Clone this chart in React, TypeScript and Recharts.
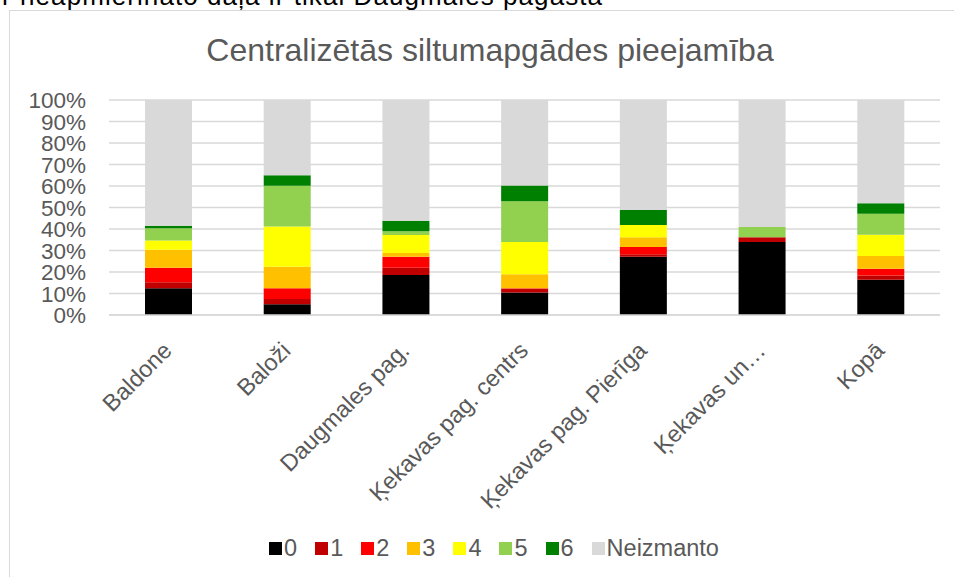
import React from "react";
import { BarChart, Bar, XAxis, YAxis, CartesianGrid } from "recharts";

const categories = [
  "Baldone",
  "Baloži",
  "Daugmales pag.",
  "Ķekavas pag. centrs",
  "Ķekavas pag. Pierīga",
  "Ķekavas un…",
  "Kopā",
];

const s0 = [12.4, 5.0, 18.6, 10.5, 27.1, 34.0, 16.4];
const s1 = [2.8, 2.4, 3.4, 1.7, 1.1, 2.2, 2.0];
const s2 = [6.8, 5.0, 5.1, 0.3, 3.4, 0, 3.1];
const s3 = [8.3, 10.0, 1.7, 6.4, 4.6, 0, 5.9];
const s4 = [4.4, 18.8, 8.4, 15.0, 5.7, 0, 9.9];
const s5 = [5.6, 18.9, 1.8, 19.0, 0, 4.7, 9.8];
const s6 = [1.2, 4.9, 4.8, 7.3, 6.9, 0, 4.9];
const sNeizmanto = [58.5, 35.0, 56.2, 39.8, 51.2, 59.1, 48.0];

const seriesNames = ["0", "1", "2", "3", "4", "5", "6", "Neizmanto"];
const seriesValues = [s0, s1, s2, s3, s4, s5, s6, sNeizmanto];
const seriesColors = [
  "#000000",
  "#C00000",
  "#FF0000",
  "#FFC000",
  "#FFFF00",
  "#92D050",
  "#008000",
  "#D9D9D9",
];

const yTicks = [0, 10, 20, 30, 40, 50, 60, 70, 80, 90, 100];

const title = "Centralizētās siltumapgādes pieejamība";
const clippedText = "r neapmierināto daļa ir tikai Daugmales pagastā";

const data = categories.map((c, i) => {
  const row: Record<string, string | number> = { name: c };
  seriesNames.forEach((s, k) => {
    row["s" + k] = seriesValues[k][i];
  });
  return row;
});

const FONT = "'Liberation Sans', Arial, sans-serif";
const GREY = "#595959";

const YTick = (props: any) => {
  const { y, payload } = props;
  return (
    <text x={86} y={y} dy={8} textAnchor="end" fontSize={22.5} fill={GREY} fontFamily={FONT}>
      {payload.value}%
    </text>
  );
};

const XTick = (props: any) => {
  const { x, y, payload } = props;
  const ax = x + 5;
  const ay = y + 29;
  return (
    <text
      x={ax}
      y={ay}
      textAnchor="end"
      fontSize={23.5}
      fill={GREY}
      fontFamily={FONT}
      transform={`rotate(-45 ${ax} ${ay})`}
    >
      {payload.value}
    </text>
  );
};

export default function App() {
  return (
    <div
      style={{
        position: "absolute",
        left: 0,
        top: 0,
        width: 954,
        height: 577,
        overflow: "hidden",
        background: "#fff",
        fontFamily: FONT,
      }}
    >
      <svg width={954} height={20} style={{ position: "absolute", left: 0, top: 0 }}>
        <text
          x={2}
          y={5}
          fontSize={26}
          fill="#000"
          fontFamily={FONT}
          textLength={600}
          lengthAdjust="spacing"
        >
          {clippedText}
        </text>
      </svg>
      <div
        style={{
          position: "absolute",
          left: 9,
          top: 10,
          width: 1000,
          height: 700,
          border: "1.5px solid #d9d9d9",
          boxSizing: "border-box",
        }}
      />
      <div style={{ position: "absolute", left: 0, top: 0 }}>
        <BarChart
          width={954}
          height={577}
          data={data}
          margin={{ top: 100, right: 14, bottom: 0, left: 0 }}
          barSize={47}
        >
          <text
            x={490}
            y={61}
            textAnchor="middle"
            fontSize={32}
            fill={GREY}
            fontFamily={FONT}
          >
            {title}
          </text>
          <CartesianGrid vertical={false} stroke="#d9d9d9" strokeWidth={1.5} />
          <XAxis
            dataKey="name"
            height={262}
            interval={0}
            tickLine={false}
            axisLine={{ stroke: "#d9d9d9", strokeWidth: 1.5 }}
            tick={<XTick />}
          />
          <YAxis
            width={109}
            domain={[0, 100]}
            ticks={yTicks}
            interval={0}
            tickLine={false}
            axisLine={false}
            tick={<YTick />}
          />
          {seriesNames.map((s, k) => (
            <Bar
              key={s}
              dataKey={"s" + k}
              name={s}
              stackId="a"
              fill={seriesColors[k]}
              isAnimationActive={false}
            />
          ))}
        </BarChart>
      </div>
      <div
        style={{
          position: "absolute",
          left: 0,
          width: 988,
          top: 535,
          display: "flex",
          justifyContent: "center",
          alignItems: "center",
          fontSize: 23.5,
          color: GREY,
          fontFamily: FONT,
          lineHeight: "26px",
        }}
      >
        {seriesNames.map((s, k) => (
          <div
            key={s}
            style={{
              display: "flex",
              alignItems: "center",
              marginRight: k === seriesNames.length - 1 ? 0 : 18,
            }}
          >
            <span
              style={{
                display: "inline-block",
                width: 13,
                height: 13,
                background: seriesColors[k],
                marginRight: 2,
              }}
            />
            <span>{s}</span>
          </div>
        ))}
      </div>
    </div>
  );
}
